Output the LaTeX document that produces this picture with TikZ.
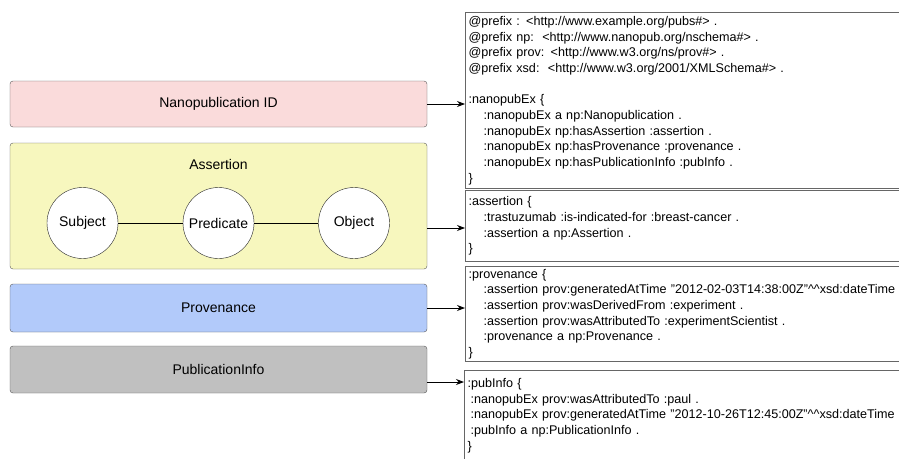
\documentclass[tikz,border=0pt]{standalone}
\usepackage{fontspec}
\setmainfont{Liberation Sans}
\usetikzlibrary{arrows.meta}

\definecolor{idpink}{RGB}{250,219,219}
\definecolor{asyellow}{RGB}{247,247,190}
\definecolor{provblue}{RGB}{178,202,250}
\definecolor{infogray}{RGB}{192,192,192}

\newcommand{\tind}{\hspace*{15pt}}

\tikzset{
  layer/.style={draw=black!65, rounded corners=3pt, minimum width=417pt, minimum height=46pt, font=\fontsize{14}{17}\selectfont},
  triple/.style={circle, draw=black!85, fill=white, minimum size=71pt, inner sep=0pt, font=\fontsize{14}{17}\selectfont},
  trig/.style={draw=black!60, line width=1.2pt, anchor=north west, align=left, text width=460pt, inner xsep=3pt, inner ysep=2pt, font=\fontsize{12.6}{15.7}\selectfont},
  arr/.style={-{Stealth[length=8pt,width=6pt]}, line width=0.9pt}
}

\begin{document}
\begin{tikzpicture}[x=1pt,y=-1pt]
    \useasboundingbox (0,0) rectangle (899,458);
    \clip (0,0) rectangle (899,458);
    \fill[white] (0,0) rectangle (899,458);

    % the four parts
    \node[layer, fill=idpink] (nanoid) at (218.5,104) {Nanopublication ID};
    \node[layer, fill=asyellow, minimum height=126pt,
          label={[below=13pt, font=\fontsize{14}{17}\selectfont]north:Assertion}] (assertion) at (218.5,206) {};
    \node[layer, fill=provblue, minimum height=48pt] (provenance) at (218.5,308) {Provenance};
    \node[layer, fill=infogray, minimum height=47pt] (pubinfo) at (218.5,369.5) {PublicationInfo};

    \node[triple] (subject) at (82.5,223) {Subject};
    \node[triple] (predicate) at (218.5,223) {Predicate};
    \node[triple] (object) at (354,223) {Object};
    \draw (subject) -- (predicate);
    \draw (predicate) -- (object);

    % trig text
    \node[trig, minimum height=176pt] (trigA) at (465,12) {%
        @prefix : <http://www.example.org/pubs\#> .\\
        @prefix np:\ \ <http://www.nanopub.org/nschema\#> .\\
        @prefix prov: <http://www.w3.org/ns/prov\#> .\\
        @prefix xsd:\ \ <http://www.w3.org/2001/XMLSchema\#> .\\[15.7pt]
        :nanopubEx \{\\
        \tind:nanopubEx a np:Nanopublication .\\
        \tind:nanopubEx np:hasAssertion :assertion .\\
        \tind:nanopubEx np:hasProvenance :provenance .\\
        \tind:nanopubEx np:hasPublicationInfo :pubInfo .\\
        \}};
    \node[trig, minimum height=71pt] (trigB) at (465,190) {%
        :assertion \{\\
        \tind:trastuzumab :is-indicated-for :breast-cancer .\\
        \tind:assertion a np:Assertion .\\
        \}};
    \node[trig, minimum height=95pt] (trigC) at (465,266) {%
        :provenance \{\\
        \tind:assertion prov:generatedAtTime "2012-02-03T14:38:00Z"\textasciicircum\textasciicircum xsd:dateTime\\
        \tind:assertion prov:wasDerivedFrom :experiment .\\
        \tind:assertion prov:wasAttributedTo :experimentScientist .\\
        \tind:provenance a np:Provenance .\\
        \}};
    \node[trig, minimum height=90pt] (trigD) at (464,370) {%
        :pubInfo \{\\
        \hspace*{3pt}:nanopubEx prov:wasAttributedTo :paul .\\
        \hspace*{3pt}:nanopubEx prov:generatedAtTime "2012-10-26T12:45:00Z"\textasciicircum\textasciicircum xsd:dateTime .\\
        \hspace*{3pt}:pubInfo a np:PublicationInfo .\\
        \}};

    \draw[arr] (nanoid.east) -- (nanoid.east -| trigA.west);
    \draw[arr] ([yshift=-22pt]assertion.east) -- ([yshift=-22pt]assertion.east -| trigB.west);
    \draw[arr] (provenance.east) -- (provenance.east -| trigC.west);
    \draw[arr] ([yshift=-12.5pt]pubinfo.east) -- ([yshift=-12.5pt]pubinfo.east -| trigD.west);
\end{tikzpicture}
\end{document}
